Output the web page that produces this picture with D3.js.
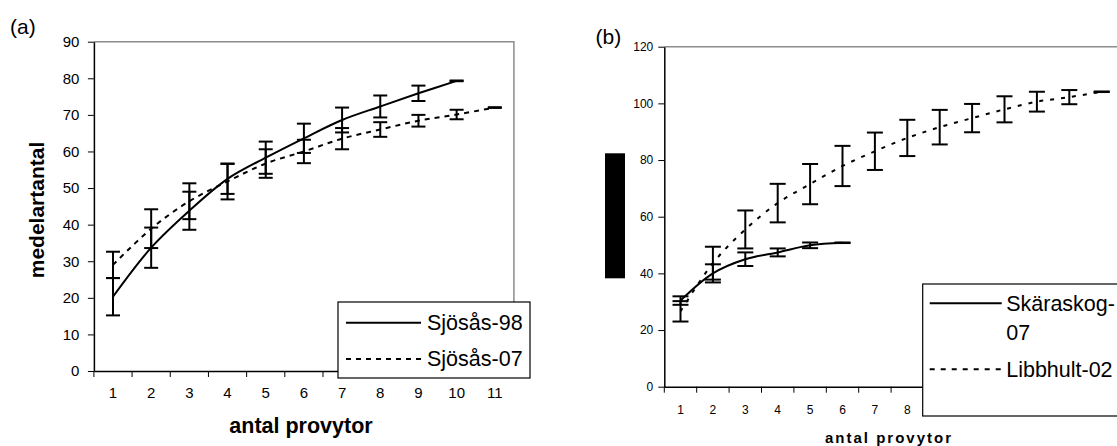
<!DOCTYPE html>
<html>
<head>
<meta charset="utf-8">
<script src="https://cdn.jsdelivr.net/npm/d3@7"></script>
<style>
  body { margin: 0; background: #fff; }
  svg { display: block; font-family: "Liberation Sans", Arial, sans-serif; }
</style>
</head>
<body>
<script>
// panel (a)
var catsA = [1, 2, 3, 4, 5, 6, 7, 8, 9, 10, 11];
var ticksA = [0, 10, 20, 30, 40, 50, 60, 70, 80, 90];
var sjosas98 = [20.3, 33.7, 43.8, 52.5, 58.3, 63.6, 68.6, 72.3, 75.9, 79.3];
var sjosas98Err = [5.1, 5.5, 5.2, 4.1, 4.4, 4.0, 3.4, 3.0, 2.1, 0.1];
var sjosas07 = [29.0, 38.9, 46.4, 51.8, 56.7, 60.0, 63.5, 66.0, 68.4, 70.1, 72.0];
var sjosas07Err = [3.6, 5.3, 4.9, 4.9, 3.9, 3.2, 2.9, 2.0, 1.6, 1.3, 0.1];

// panel (b)
var catsB = [1, 2, 3, 4, 5, 6, 7, 8, 9, 10, 11, 12, 13, 14, 15];
var ticksB = [0, 20, 40, 60, 80, 100, 120];
var skaraskog07 = [30.4, 40.0, 45.0, 47.4, 49.9, 50.8];
var skaraskog07Err = [1.5, 3.2, 2.4, 1.4, 1.0, 0.1];
var libbhult02 = [26.6, 43.6, 55.5, 64.8, 71.5, 77.9, 83.1, 87.8, 91.6, 94.8, 97.9, 100.6, 102.2, 104.1];
var libbhult02Err = [3.6, 5.8, 6.7, 6.8, 7.1, 7.1, 6.6, 6.4, 6.1, 5.0, 4.6, 3.5, 2.5, 0.1];

var W = 1117, H = 446;
var svg = d3.select("body").append("svg")
  .attr("width", W)
  .attr("height", H);

function drawPanel(p) {
  var x = d3.scaleBand().domain(p.cats).range([p.left, p.right]);
  var y = d3.scaleLinear().domain([0, p.ymax]).range([p.bottom, p.top]);
  var g = svg.append("g");
  var cx = function(i) { return x(p.cats[i]) + x.bandwidth() / 2; };

  // grey frame top + right
  g.append("path")
    .attr("d", "M" + p.left + "," + p.top + "H" + p.right + "V" + p.bottom)
    .attr("fill", "none").attr("stroke", "#8c8c8c").attr("stroke-width", 1.5);

  var yAxis = g.append("g")
    .attr("transform", "translate(" + p.left + ",0)")
    .call(d3.axisLeft(y).tickValues(p.ticks).tickSize(6).tickSizeOuter(0).tickPadding(p.yPad));
  yAxis.selectAll("text").style("font-size", p.tickFont + "px").attr("fill", "#000");

  var xAxis = g.append("g")
    .attr("transform", "translate(0," + p.bottom + ")")
    .call(d3.axisBottom(x).tickSize(0).tickSizeOuter(0).tickPadding(p.xPad));
  xAxis.selectAll("text").style("font-size", p.tickFont + "px").attr("fill", "#000");
  // labels that fall past the page edge are not drawn
  xAxis.selectAll(".tick").filter(function(d) { return x(d) + x.bandwidth() > W; }).remove();
  // ticks on category boundaries
  xAxis.selectAll(".bnd").data(p.cats.concat(["end"])).enter().append("line")
    .attr("x1", function(d, i) { return i < p.cats.length ? x(d) : p.right; })
    .attr("x2", function(d, i) { return i < p.cats.length ? x(d) : p.right; })
    .attr("y1", 0).attr("y2", 6).attr("stroke", "#000");
  g.selectAll(".domain").attr("stroke", "#000").attr("stroke-width", 1.5);
  g.selectAll(".tick line").attr("stroke", "#000");

  p.series.forEach(function(s) {
    var line = d3.line()
      .x(function(d, i) { return cx(i); })
      .y(function(d) { return y(d); })
      .curve(d3.curveCatmullRom.alpha(0.5));
    g.append("path").datum(s.values)
      .attr("d", line)
      .attr("fill", "none").attr("stroke", "#000").attr("stroke-width", 2)
      .attr("stroke-dasharray", s.dash || null);

    var eb = g.selectAll(null).data(s.values).enter().append("g");
    eb.append("line")
      .attr("x1", function(d, i) { return cx(i); })
      .attr("x2", function(d, i) { return cx(i); })
      .attr("y1", function(d, i) { return y(d - s.err[i]); })
      .attr("y2", function(d, i) { return y(d + s.err[i]); })
      .attr("stroke", "#000").attr("stroke-width", 2);
    [-1, 1].forEach(function(sg) {
      eb.append("line")
        .attr("x1", function(d, i) { return cx(i) - p.cap / 2; })
        .attr("x2", function(d, i) { return cx(i) + p.cap / 2; })
        .attr("y1", function(d, i) { return y(d + sg * s.err[i]); })
        .attr("y2", function(d, i) { return y(d + sg * s.err[i]); })
        .attr("stroke", "#000").attr("stroke-width", 2);
    });
  });

  // legend
  var lg = g.append("g");
  lg.append("rect")
    .attr("x", p.legend.x).attr("y", p.legend.y)
    .attr("width", p.legend.w).attr("height", p.legend.h)
    .attr("fill", "#fff").attr("stroke", "#000").attr("stroke-width", 1.2);
  p.legend.items.forEach(function(it) {
    lg.append("line")
      .attr("x1", p.legend.x + p.legend.lx1).attr("x2", p.legend.x + p.legend.lx2)
      .attr("y1", it.ly).attr("y2", it.ly)
      .attr("stroke", "#000").attr("stroke-width", 2)
      .attr("stroke-dasharray", it.dash || null);
    it.lines.forEach(function(t, k) {
      lg.append("text")
        .attr("x", p.legend.x + p.legend.tx).attr("y", it.ty + k * p.legend.lh)
        .style("font-size", p.legend.font + "px")
        .text(t);
    });
  });

  // titles
  svg.append("text")
    .attr("x", p.xTitleX).attr("y", p.xTitleY)
    .attr("text-anchor", "middle")
    .style("font-size", p.xTitleFont + "px").style("font-weight", "bold")
    .style("letter-spacing", p.xTitleSpacing + "px")
    .text("antal provytor");
  svg.append("text")
    .attr("x", p.tag.x).attr("y", p.tag.y)
    .style("font-size", "21px")
    .text(p.tag.text);
}

drawPanel({
  cats: catsA, ticks: ticksA, ymax: 90,
  left: 93.9, right: 513.9, top: 41.7, bottom: 371,
  yPad: 8.5, xPad: 16.5, tickFont: 15, cap: 14,
  series: [
    { values: sjosas98, err: sjosas98Err },
    { values: sjosas07, err: sjosas07Err, dash: "5,5" }
  ],
  legend: { x: 338, y: 302, w: 192, h: 76, lx1: 8, lx2: 83, tx: 89, font: 21.5, lh: 0,
    items: [
      { ly: 322.7, ty: 330, lines: ["Sjösås-98"] },
      { ly: 359, ty: 365.5, lines: ["Sjösås-07"], dash: "5,5" }
    ] },
  xTitleX: 301, xTitleY: 433, xTitleFont: 21.5, xTitleSpacing: 0,
  tag: { x: 10, y: 34, text: "(a)" }
});

drawPanel({
  cats: catsB, ticks: ticksB, ymax: 120,
  left: 664.3, right: 1150.3, top: 46.7, bottom: 386.7,
  yPad: 5, xPad: 18.8, tickFont: 12, cap: 16,
  series: [
    { values: skaraskog07, err: skaraskog07Err },
    { values: libbhult02, err: libbhult02Err, dash: "4,7" }
  ],
  legend: { x: 922.7, y: 284, w: 240, h: 132, lx1: 7, lx2: 79, tx: 83.5, font: 21.5, lh: 29,
    items: [
      { ly: 303.3, ty: 311, lines: ["Skäraskog-", "07"] },
      { ly: 369.3, ty: 377, lines: ["Libbhult-02"], dash: "5,6" }
    ] },
  xTitleX: 889, xTitleY: 443, xTitleFont: 15, xTitleSpacing: 2,
  tag: { x: 595.5, y: 43.6, text: "(b)" }
});

// y-axis title (a)
svg.append("text")
  .attr("transform", "translate(43.5,210) rotate(-90)")
  .attr("text-anchor", "middle")
  .style("font-size", "21px").style("font-weight", "bold")
  .text("medelartantal");
// (b) y title is blacked out in the source
svg.append("rect")
  .attr("x", 605).attr("y", 153.3)
  .attr("width", 20).attr("height", 125)
  .attr("fill", "#000");
</script>
</body>
</html>
